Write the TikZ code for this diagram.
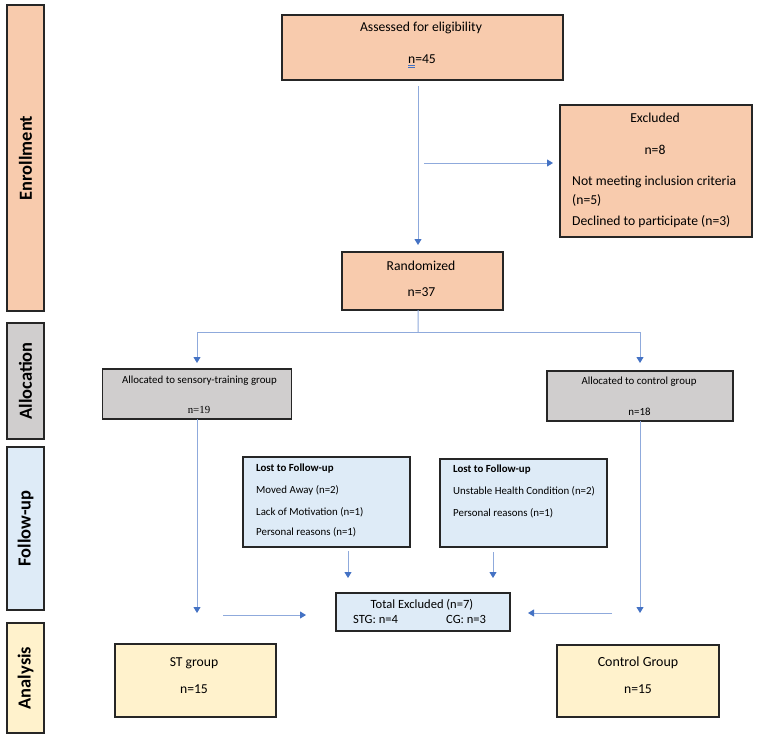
\documentclass[tikz,border=0pt]{standalone}
\usepackage{fontspec}
\setmainfont{Carlito}
\newfontfamily\serifnum{Liberation Serif}
\usetikzlibrary{arrows.meta}
\definecolor{peach}{HTML}{F8CBAD}
\definecolor{grayfill}{HTML}{D0CECE}
\definecolor{bluefill}{HTML}{DEEBF7}
\definecolor{yellowfill}{HTML}{FFF2CC}
\definecolor{bordc}{HTML}{262626}
\definecolor{lineblue}{HTML}{8FAADC}
\definecolor{tipblue}{HTML}{4472C4}
\begin{document}
\begin{tikzpicture}[x=1bp,y=-1bp,
  box/.style={draw=bordc, line width=1.4bp, inner sep=0pt, outer sep=0pt},
  side/.style={box, rotate=90, font=\fontsize{18.5}{18.5}\bfseries\selectfont},
  txt/.style={inner sep=0pt, font=\fontsize{13.7}{15}\selectfont},
  small/.style={inner sep=0pt, font=\fontsize{10.9}{12}\selectfont},
  ln/.style={draw=lineblue, line width=1bp},
  arr/.style={ln, -{Triangle[length=6bp,width=7bp,color=tipblue]}}]
\useasboundingbox (0,0) rectangle (760,736);
\fill[white] (0,0) rectangle (760,736);

% side bars
\node[side, fill=peach, minimum width=306bp, minimum height=37bp] (enr) at (25.5,158) {Enrollment};
\node[side, fill=grayfill, minimum width=116bp, minimum height=37bp] (alloc) at (25.5,381) {Allocation};
\node[side, fill=bluefill, minimum width=163bp, minimum height=37bp] (fol) at (25.5,528.5) {Follow-up};
\node[side, fill=yellowfill, minimum width=110bp, minimum height=37bp] (ana) at (25.5,678) {Analysis};

% boxes
\node[box, fill=peach, minimum width=281bp, minimum height=65bp] (assess) at (422.5,47.5) {};
\node[box, fill=peach, minimum width=192bp, minimum height=132bp] (excl) at (656,171) {};
\node[box, fill=peach, minimum width=161bp, minimum height=58bp] (random) at (422.5,281) {};
\node[box, fill=grayfill, minimum width=189bp, minimum height=50bp] (sens) at (197,394) {};
\node[box, fill=grayfill, minimum width=186bp, minimum height=50bp] (ctrlA) at (640,396) {};
\node[box, fill=bluefill, minimum width=167bp, minimum height=90bp] (lost1) at (326.5,502) {};
\node[box, fill=bluefill, minimum width=167bp, minimum height=88bp] (lost2) at (523.5,503) {};
\node[box, fill=bluefill, minimum width=174bp, minimum height=38bp] (total) at (423,612) {};
\node[box, fill=yellowfill, minimum width=161bp, minimum height=73bp] (stg) at (195.5,680.5) {};
\node[box, fill=yellowfill, minimum width=162bp, minimum height=72bp] (cg) at (638,681) {};

% texts
\node[txt] (assess-t1) at (421,28) {Assessed for eligibility};
\node[txt] (assess-t2) at (422,61) {{\setbox0\hbox{n}\rlap{\textcolor{tipblue}{\rule[-2.2bp]{\wd0}{0.5bp}}}\rlap{\textcolor{tipblue}{\rule[-3.6bp]{\wd0}{0.5bp}}}n}=45};
\node[txt] (excl-t1) at (655,118) {Excluded};
\node[txt] (excl-t2) at (655,150) {n=8};
\node[txt, anchor=west] (excl-t3) at (572,182) {Not meeting inclusion criteria};
\node[txt, anchor=west] (excl-t4) at (572,200) {(n=5)};
\node[txt, anchor=west] (excl-t5) at (572,222) {Declined to participate (n=3)};
\node[txt] (random-t1) at (421,266) {Randomized};
\node[txt] (random-t2) at (421.5,292) {n=37};
\node[small] (sens-t1) at (199.5,381) {Allocated to sensory-training group};
\node[small, font=\serifnum\fontsize{10.9}{12}\selectfont] (sens-t2) at (199,410) {n=19};
\node[small] (ctrlA-t1) at (639,382) {Allocated to control group};
\node[small] (ctrlA-t2) at (639.5,412) {n=18};
\node[small, anchor=west, font=\fontsize{10.9}{12}\bfseries\selectfont] (lost1-t1) at (256,469) {Lost to Follow-up};
\node[small, anchor=west] (lost1-t2) at (256,490) {Moved Away (n=2)};
\node[small, anchor=west] (lost1-t3) at (256,512) {Lack of Motivation (n=1)};
\node[small, anchor=west] (lost1-t4) at (256,532) {Personal reasons (n=1)};
\node[small, anchor=west, font=\fontsize{10.9}{12}\bfseries\selectfont] (lost2-t1) at (453,470) {Lost to Follow-up};
\node[small, anchor=west] (lost2-t2) at (453,491) {Unstable Health Condition (n=2)};
\node[small, anchor=west] (lost2-t3) at (453,513) {Personal reasons (n=1)};
\node[txt, font=\fontsize{12.6}{14}\selectfont] (total-t1) at (422,605) {Total Excluded (n=7)};
\node[txt, anchor=west, font=\fontsize{12.6}{14}\selectfont] (total-t2) at (353,619) {STG: n=4};
\node[txt, anchor=west, font=\fontsize{12.6}{14}\selectfont] (total-t3) at (446,619) {CG: n=3};
\node[txt] (stg-t1) at (194,663) {ST group};
\node[txt] (stg-t2) at (194,689) {n=15};
\node[txt, font=\fontsize{14}{15}\selectfont] (cg-t1) at (638,663) {Control Group};
\node[txt] (cg-t2) at (638,689) {n=15};

% connectors
\draw[arr, shorten <=6bp, shorten >=7bp] ([xshift=-4.5bp]assess.south) -- ([xshift=-4.5bp]random.north);
\coordinate (exA) at (424,163);
\draw[arr, shorten >=7bp] (exA) -- (exA -| excl.west);
\coordinate (split) at (418,332);
\draw[ln] ([xshift=-4.5bp]random.south) -- (split);
\draw[arr, shorten >=6bp] (split) -| (sens.north);
\draw[arr, shorten >=8bp] (split) -| (ctrlA.north);
\coordinate (stEnd) at (197,613);
\draw[arr] (sens.south) -- (stEnd);
\coordinate (cgEnd) at (640,613);
\draw[arr] (ctrlA.south) -- (cgEnd);
\coordinate (l1x) at (348,0);
\draw[arr, shorten <=4bp, shorten >=15bp] (l1x |- lost1.south) -- (l1x |- total.north);
\coordinate (l2x) at (493,0);
\draw[arr, shorten <=5bp, shorten >=15bp] (l2x |- lost2.south) -- (l2x |- total.north);
\coordinate (tlA) at (223,615);
\draw[arr, shorten >=30bp] (tlA) -- (tlA -| total.west);
\coordinate (trA) at (612,613);
\draw[arr, shorten >=18bp] (trA) -- (trA -| total.east);
\end{tikzpicture}
\end{document}
